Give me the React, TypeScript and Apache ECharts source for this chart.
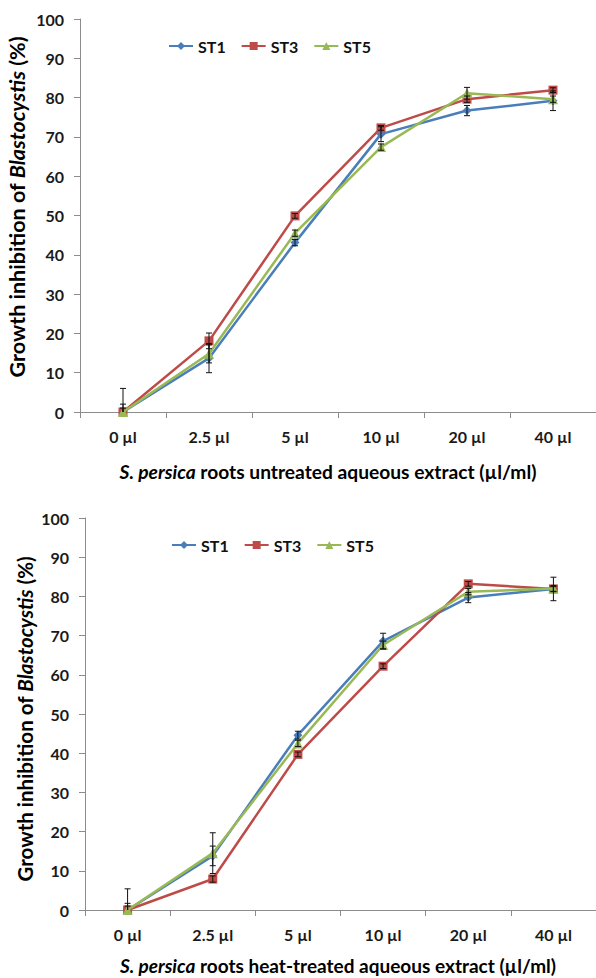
import React, { useEffect, useRef } from "react";
import * as echarts from "echarts";

const categories = ["0 µl", "2.5 µl", "5 µl", "10 µl", "20 µl", "40 µl"];
const yTicks = [0, 100, 10];
const seriesNames = ["ST1", "ST3", "ST5"];

const untreatedST1 = [0, 13.7, 43.1, 70.7, 76.7, 79.2];
const untreatedST3 = [0, 18.1, 49.9, 72.3, 79.6, 81.9];
const untreatedST5 = [0, 14.8, 45.5, 67.4, 81.1, 79.6];
const untreatedErrST1 = [6, 3.7, 0.8, 1.9, 1.3, 2.5];
const untreatedErrST3 = [2, 2, 0.6, 0.6, 0.8, 0.6];
const untreatedErrST5 = [1, 2.3, 0.8, 0.8, 1.5, 0.8];

const heatST1 = [0, 13.8, 44.6, 68.6, 79.7, 81.9];
const heatST3 = [0, 7.9, 39.7, 62.2, 83.2, 81.9];
const heatST5 = [0, 14.5, 42.5, 67.6, 81.2, 82.0];
const heatErrST1 = [5.4, 2.5, 1, 2, 1.3, 3];
const heatErrST3 = [1.7, 0.8, 0.6, 0.6, 0.6, 0.6];
const heatErrST5 = [1, 5.2, 0.8, 1, 0.8, 0.8];

const xTitle1 = ["S. persica", " roots untreated aqueous extract (µl/ml)"];
const xTitle2 = ["S. persica", " roots heat-treated aqueous extract (µl/ml)"];
const yTitle = ["Growth inhibition of ", "Blastocystis", " (%)"];

const COLORS = ["#4A7EBB", "#BE4B48", "#98B954"];
const SYMBOLS = ["diamond", "rect", "triangle"];
const SYMBOL_SIZES = [9, 9, 10];
const FONT = "Lato";
const AXIS_COLOR = "#8C8C8C";

function richTitle(parts: string[], italicIdx: number) {
  return parts.map((p, i) => `{${i === italicIdx ? "b" : "a"}|${p}}`).join("");
}

function richStyles(size: number) {
  return {
    a: { fontFamily: FONT, fontWeight: "bold", fontSize: size, color: "#111" },
    b: { fontFamily: FONT, fontWeight: "bold", fontStyle: "italic", fontSize: size, color: "#111" },
  };
}

export default function App() {
  const ref = useRef<HTMLDivElement>(null);
  useEffect(() => {
    if (!ref.current) return;
    const chart = echarts.init(ref.current, null, { renderer: "svg" });

    const grids = [
      { left: 80, top: 19, width: 519, height: 393 },
      { left: 85, top: 518, width: 519, height: 392 },
    ];

    const values = [
      [untreatedST1, untreatedST3, untreatedST5],
      [heatST1, heatST3, heatST5],
    ];
    const errs = [
      [untreatedErrST1, untreatedErrST3, untreatedErrST5],
      [heatErrST1, heatErrST3, heatErrST5],
    ];

    const xAxis = grids.map((_, i) => ({
      type: "category",
      gridIndex: i,
      data: categories,
      boundaryGap: true,
      axisLine: { lineStyle: { color: AXIS_COLOR, width: 1 } },
      axisTick: { show: true, length: 6, lineStyle: { color: AXIS_COLOR } },
      axisLabel: {
        color: "#1a1a1a",
        fontFamily: FONT,
        fontWeight: "bold",
        fontSize: 16,
        margin: 16,
      },
      splitLine: { show: false },
    }));

    const yAxis = grids.map((_, i) => ({
      type: "value",
      gridIndex: i,
      min: yTicks[0],
      max: yTicks[1],
      interval: yTicks[2],
      axisLine: { show: true, lineStyle: { color: AXIS_COLOR, width: 1 } },
      axisTick: { show: true, length: 6, lineStyle: { color: AXIS_COLOR } },
      axisLabel: {
        color: "#1a1a1a",
        fontFamily: FONT,
        fontWeight: "bold",
        fontSize: 16,
        margin: 16,
      },
      splitLine: { show: false },
    }));

    const series: any[] = [];
    for (let g = 0; g < 2; g++) {
      for (let s = 0; s < 3; s++) {
        series.push({
          type: "line",
          name: seriesNames[s],
          xAxisIndex: g,
          yAxisIndex: g,
          data: values[g][s],
          symbol: SYMBOLS[s],
          symbolSize: SYMBOL_SIZES[s],
          showSymbol: true,
          lineStyle: { color: COLORS[s], width: 2.5 },
          itemStyle: { color: COLORS[s] },
          z: 2 + s,
        });
      }
      for (let s = 0; s < 3; s++) {
        series.push({
          type: "custom",
          name: "err" + g + s,
          xAxisIndex: g,
          yAxisIndex: g,
          z: 10,
          encode: { x: 0, y: 1 },
          data: values[g][s].map((v, i) => [i, v, errs[g][s][i]]),
          renderItem: (params: any, api: any) => {
            const x = api.value(0);
            const y = api.value(1);
            const e = api.value(2);
            const hi = y + e;
            const lo = y - e;
            const pTop = api.coord([x, Math.min(100, hi)]);
            const pBot = api.coord([x, Math.max(0, lo)]);
            const cw = 3;
            const style = { stroke: "#111", lineWidth: 1 };
            const children: any[] = [
              { type: "line", shape: { x1: pTop[0], y1: pTop[1], x2: pBot[0], y2: pBot[1] }, style },
              { type: "line", shape: { x1: pTop[0] - cw, y1: pTop[1], x2: pTop[0] + cw, y2: pTop[1] }, style },
            ];
            if (lo >= 0) {
              children.push({
                type: "line",
                shape: { x1: pBot[0] - cw, y1: pBot[1], x2: pBot[0] + cw, y2: pBot[1] },
                style,
              });
            }
            return { type: "group", children };
          },
        });
      }
    }

    const legendCommon = {
      data: seriesNames,
      orient: "horizontal",
      itemWidth: 24,
      itemHeight: 10,
      itemGap: 15,
      textStyle: { fontFamily: FONT, fontWeight: "bold", fontSize: 16, color: "#111" },
    };

    const option: any = {
      animation: false,
      backgroundColor: "#ffffff",
      grid: grids,
      xAxis,
      yAxis,
      series,
      legend: [
        { ...legendCommon, left: 163, top: 33 },
        { ...legendCommon, left: 166, top: 532 },
      ],
      graphic: [
        {
          type: "text",
          x: 17,
          y: 207,
          rotation: Math.PI / 2,
          style: {
            text: richTitle(yTitle, 1),
            align: "center",
            verticalAlign: "middle",
            rich: richStyles(21.5),
          },
        },
        {
          type: "text",
          x: 25,
          y: 719,
          rotation: Math.PI / 2,
          style: {
            text: richTitle(yTitle, 1),
            align: "center",
            verticalAlign: "middle",
            rich: richStyles(20.5),
          },
        },
        {
          type: "text",
          x: 328,
          y: 471,
          style: {
            text: richTitle(xTitle1, 0),
            align: "center",
            verticalAlign: "middle",
            rich: richStyles(19.2),
          },
        },
        {
          type: "text",
          x: 338,
          y: 965,
          style: {
            text: richTitle(xTitle2, 0),
            align: "center",
            verticalAlign: "middle",
            rich: richStyles(19),
          },
        },
      ],
    };
    chart.setOption(option);
    return () => chart.dispose();
  }, []);

  return (
    <div
      ref={ref}
      style={{ position: "absolute", left: 0, top: 0, width: 596, height: 978, overflow: "hidden" }}
    />
  );
}
